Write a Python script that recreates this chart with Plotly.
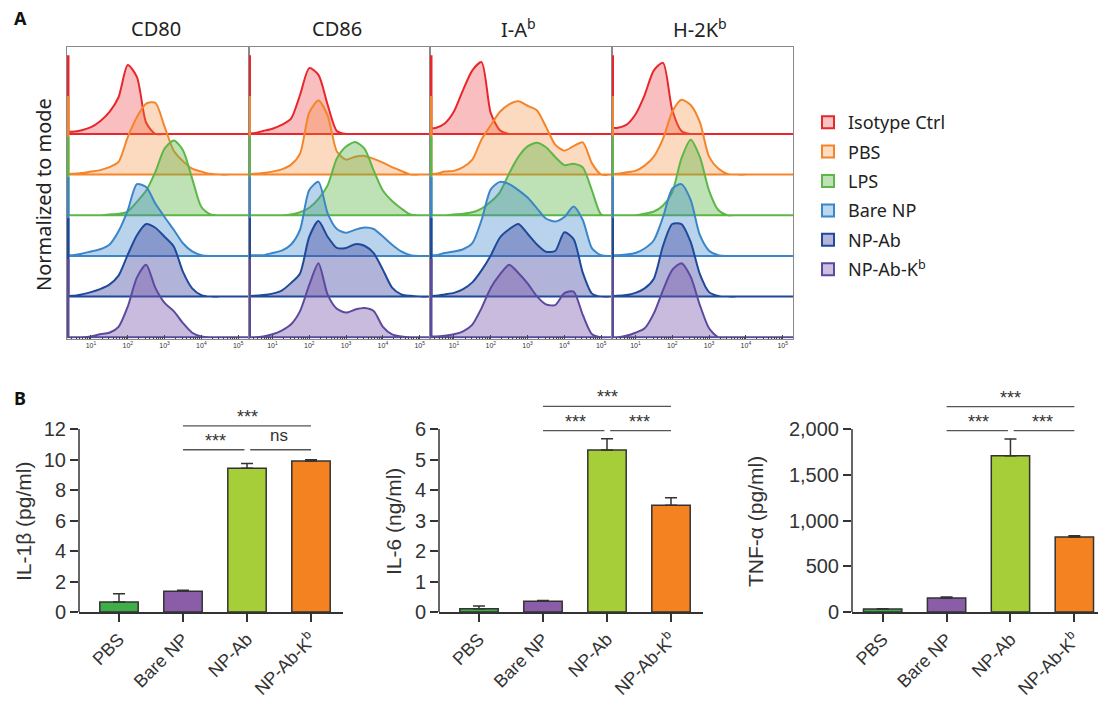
import plotly.graph_objects as go

W, H = 1099, 702

# ---------------- Panel A data (flow cytometry histograms, % of mode) ----------------
SAMPLES = ["Isotype Ctrl", "PBS", "LPS", "Bare NP", "NP-Ab", "NP-Ab-K<sup>b</sup>"]
LINE_COLORS = ["#e8262b", "#f5852a", "#5cb748", "#3b86c8", "#1f4a9a", "#5b4a9d"]
FILL_COLORS = ["rgba(234,40,45,0.30)", "rgba(246,134,44,0.30)", "rgba(92,183,72,0.40)",
               "rgba(59,134,200,0.36)", "rgba(70,75,165,0.42)", "rgba(120,85,170,0.40)"]
LEGEND_FILL = ["#f8c3c3", "#fcdcc2", "#bfe1b6", "#bcd7ef", "#b3b5da", "#cdbfe0"]

MARKERS = ["CD80", "CD86", "I-A<sup>b</sup>", "H-2K<sup>b</sup>"]
LOG10_FLUOR = [0.25, 0.5, 0.75, 1.0, 1.25, 1.5, 1.75, 2.0, 2.25, 2.5, 2.75,
               3.0, 3.25, 3.5, 3.75, 4.0, 4.25, 4.5, 4.75, 5.0, 5.25, 5.5]
EDGE_PILEUP = [105, 105, 105, 105, 105, 105]

CD80_ISO = [3, 3, 5, 9, 17, 29, 49, 92, 76, 15, 0, 0, 0, 0, 0, 0, 0, 0, 0, 0, 0, 0]
CD80_PBS = [1, 1, 2, 4, 6, 10, 17, 50, 77, 95, 96, 64, 32, 18, 8, 4, 1, 0, 0, 0, 0, 0]
CD80_LPS = [0, 0, 0, 0, 0, 1, 2, 5, 18, 33, 58, 89, 100, 87, 49, 11, 1, 0, 0, 0, 0, 0]
CD80_BARE = [1, 1, 3, 6, 9, 15, 33, 61, 96, 92, 70, 52, 35, 17, 6, 1, 0, 0, 0, 0, 0, 0]
CD80_NPAB = [1, 1, 3, 6, 10, 16, 28, 56, 82, 97, 92, 80, 67, 33, 11, 2, 0, 0, 0, 0, 0, 0]
CD80_NPABK = [0, 0, 0, 1, 4, 6, 14, 41, 80, 97, 66, 46, 35, 19, 6, 1, 0, 0, 0, 0, 0, 0]

CD86_ISO = [1, 1, 4, 7, 12, 20, 52, 88, 79, 39, 4, 0, 0, 0, 0, 0, 0, 0, 0, 0, 0, 0]
CD86_PBS = [1, 1, 2, 4, 7, 13, 28, 83, 99, 79, 31, 20, 24, 25, 21, 16, 10, 5, 0, 0, 0, 0]
CD86_LPS = [0, 0, 0, 0, 0, 1, 4, 10, 22, 40, 76, 92, 98, 89, 60, 33, 19, 9, 1, 0, 0, 0]
CD86_BARE = [1, 1, 1, 4, 7, 15, 35, 88, 99, 57, 36, 31, 35, 38, 36, 26, 15, 6, 1, 0, 0, 0]
CD86_NPAB = [1, 1, 2, 4, 8, 18, 31, 80, 101, 80, 65, 65, 70, 68, 58, 36, 12, 3, 1, 0, 0, 0]
CD86_NPABK = [0, 0, 1, 4, 9, 17, 35, 70, 99, 57, 38, 33, 37, 39, 35, 14, 4, 1, 0, 0, 0, 0]

IAB_ISO = [8, 8, 14, 30, 59, 85, 96, 28, 5, 0, 0, 0, 0, 0, 0, 0, 0, 0, 0, 0, 0, 0]
IAB_PBS = [1, 1, 4, 5, 10, 20, 47, 66, 84, 94, 98, 92, 86, 64, 40, 32, 38, 43, 15, 0, 0, 0]
IAB_LPS = [0, 0, 0, 1, 2, 4, 9, 18, 31, 56, 78, 92, 97, 91, 78, 67, 69, 64, 33, 1, 0, 0]
IAB_BARE = [1, 1, 4, 6, 9, 17, 48, 89, 99, 96, 88, 78, 64, 50, 46, 52, 66, 48, 10, 1, 0, 0]
IAB_NPAB = [1, 1, 3, 5, 10, 19, 35, 55, 79, 90, 97, 84, 70, 60, 61, 86, 77, 32, 4, 0, 0, 0]
IAB_NPABK = [1, 1, 2, 4, 8, 17, 39, 66, 84, 97, 86, 72, 55, 44, 43, 59, 61, 30, 4, 0, 0, 0]

H2KB_ISO = [8, 8, 12, 26, 52, 85, 95, 32, 4, 0, 0, 0, 0, 0, 0, 0, 0, 0, 0, 0, 0, 0]
H2KB_PBS = [1, 1, 3, 5, 12, 24, 48, 84, 100, 93, 70, 24, 8, 1, 0, 0, 0, 0, 0, 0, 0, 0]
H2KB_LPS = [0, 0, 0, 0, 2, 5, 13, 31, 76, 101, 78, 33, 7, 0, 0, 0, 0, 0, 0, 0, 0, 0]
H2KB_BARE = [1, 1, 2, 4, 10, 21, 52, 90, 96, 75, 28, 7, 1, 0, 0, 0, 0, 0, 0, 0, 0, 0]
H2KB_NPAB = [1, 1, 2, 5, 11, 24, 68, 97, 97, 73, 30, 6, 1, 0, 0, 0, 0, 0, 0, 0, 0, 0]
H2KB_NPABK = [0, 0, 2, 6, 12, 32, 63, 90, 99, 81, 43, 12, 0, 0, 0, 0, 0, 0, 0, 0, 0, 0]

HISTS = [
    [CD80_ISO, CD80_PBS, CD80_LPS, CD80_BARE, CD80_NPAB, CD80_NPABK],
    [CD86_ISO, CD86_PBS, CD86_LPS, CD86_BARE, CD86_NPAB, CD86_NPABK],
    [IAB_ISO, IAB_PBS, IAB_LPS, IAB_BARE, IAB_NPAB, IAB_NPABK],
    [H2KB_ISO, H2KB_PBS, H2KB_LPS, H2KB_BARE, H2KB_NPAB, H2KB_NPABK],
]

# ---------------- Panel B data (cytokines, mean and SEM) ----------------
GROUPS = ["PBS", "Bare NP", "NP-Ab", "NP-Ab-K<sup>b</sup>"]
BAR_COLORS = ["#3fae49", "#8b5ca7", "#a6ce39", "#f58220"]
IL1B_MEAN = [0.65, 1.36, 9.42, 9.9]
IL1B_SEM = [0.55, 0.06, 0.32, 0.08]
IL6_MEAN = [0.11, 0.35, 5.31, 3.5]
IL6_SEM = [0.09, 0.03, 0.37, 0.25]
TNF_MEAN = [33, 153, 1708, 821]
TNF_SEM = [3, 11, 183, 11]
IL1B_TICKS = [0, 2, 4, 6, 8, 10, 12]
IL6_TICKS = [0, 1, 2, 3, 4, 5, 6]
TNF_TICKS = [0, 500, 1000, 1500, 2000]
TNF_TICKTEXT = ["0", "500", "1,000", "1,500", "2,000"]
# significance: (from group, to group, label, level)
IL1B_SIG = [(1, 2, "***", 0), (2, 3, "ns", 0), (1, 3, "***", 1)]
IL6_SIG = [(1, 2, "***", 0), (2, 3, "***", 0), (1, 3, "***", 1)]
TNF_SIG = [(1, 2, "***", 0), (2, 3, "***", 0), (1, 3, "***", 1)]

# ---------------- helpers ----------------
def xd(p0, p1):
    return [p0 / W, p1 / W]

def yd(top, bottom):
    return [1 - bottom / H, 1 - top / H]

def paper_ann(text, px, py, size, family, color="#222", angle=0):
    return dict(text=text, x=px / W, y=1 - py / H, xref="paper", yref="paper",
                xanchor="center", yanchor="middle", showarrow=False, textangle=angle,
                font=dict(size=size, color=color, family=family))

PANEL_EDGES = [67, 248.5, 430, 611.5, 793]
HIST_TOP, HIST_BOTTOM = 46.5, 338.5
XLOG_RANGE = [0.35, 5.28]
ROWS_TOP = 7.15
PEAK_ROWS = 1.84   # height of 100% of mode, in row spacings

TXT = "#333333"
FONT_A = "Noto Sans"
FONT_B = "Liberation Sans"

fig = go.Figure()
layout = dict(width=W, height=H, margin=dict(l=0, r=0, t=0, b=0, pad=0, autoexpand=False),
              paper_bgcolor="white", plot_bgcolor="white", showlegend=True)
annotations = []
shapes = []

minor_vals = [k * 10 ** d for d in range(0, 6) for k in range(2, 10)]

for p in range(4):
    sfx = "" if p == 0 else str(p + 1)
    xa, ya = "x" + sfx, "y" + sfx
    for s in range(6):
        base = 5 - s
        vals = HISTS[p][s]
        xs = [10 ** L for L in LOG10_FLUOR] + [10 ** LOG10_FLUOR[0]]
        ys = [base + v / 100 * PEAK_ROWS for v in vals] + [base]
        fig.add_trace(go.Scatter(
            x=xs, y=ys, xaxis=xa, yaxis=ya, mode="lines", fill="toself",
            fillcolor=FILL_COLORS[s], line=dict(color=LINE_COLORS[s], width=2,
                                                shape="spline", smoothing=0.7),
            showlegend=False, hoverinfo="skip"))
        # pile-up of events at the lower edge of the scale
        fig.add_trace(go.Scatter(
            x=[10 ** XLOG_RANGE[0]] * 2,
            y=[base, base + EDGE_PILEUP[s] / 100 * PEAK_ROWS],
            xaxis=xa, yaxis=ya, mode="lines",
            line=dict(color=LINE_COLORS[s], width=5), showlegend=False, hoverinfo="skip"))
    layout["xaxis" + sfx] = dict(
        type="log", range=XLOG_RANGE, domain=xd(PANEL_EDGES[p], PANEL_EDGES[p + 1]),
        anchor=ya, tickmode="array", tickvals=[10, 100, 1000, 10000, 100000],
        ticktext=["10<sup>1</sup>", "10<sup>2</sup>", "10<sup>3</sup>", "10<sup>4</sup>", "10<sup>5</sup>"],
        ticks="inside", ticklen=4, tickcolor="#444", tickwidth=1,
        tickfont=dict(size=7, color=TXT, family=FONT_B),
        minor=dict(tickmode="array", tickvals=minor_vals, ticks="inside", ticklen=2,
                   tickcolor="#444", tickwidth=1),
        showline=True, linecolor="#8a8a8a", linewidth=1, mirror=True,
        showgrid=False, zeroline=False, automargin=False)
    layout["yaxis" + sfx] = dict(
        range=[-0.03, ROWS_TOP], domain=yd(HIST_TOP, HIST_BOTTOM), anchor=xa,
        showticklabels=False, ticks="", showline=True, linecolor="#8a8a8a",
        linewidth=1, mirror=True, showgrid=False, zeroline=False, automargin=False)
    annotations.append(paper_ann(MARKERS[p], (PANEL_EDGES[p] + PANEL_EDGES[p + 1]) / 2 - 2, 28,
                                 20, FONT_A))

# legend entries
for s in range(6):
    fig.add_trace(go.Scatter(
        x=[None], y=[None], xaxis="x", yaxis="y", mode="markers", name=SAMPLES[s],
        legendgroup="g%d" % s,
        marker=dict(symbol="square", size=12, color=LEGEND_FILL[s],
                    line=dict(color=LINE_COLORS[s], width=1.6))))

layout["legend"] = dict(x=808 / W, y=1 - 104 / H, xanchor="left", yanchor="top",
                        font=dict(size=18, color="#222", family=FONT_A),
                        tracegroupgap=3, bgcolor="rgba(0,0,0,0)", itemsizing="constant")

annotations.append(paper_ann("Normalized to mode", 43, 195, 20, FONT_A, angle=-90))
annotations.append(paper_ann("<b>A</b>", 20, 18, 18, FONT_A, color="#111"))
annotations.append(paper_ann("<b>B</b>", 20, 398, 18, FONT_A, color="#111"))

# ---------------- Panel B bar charts ----------------
BAR_Y0, BAR_TOPTICK, BAR_DOMTOP = 612, 429, 385
charts = [
    dict(mean=IL1B_MEAN, sem=IL1B_SEM, ticks=IL1B_TICKS, ticktext=[str(t) for t in IL1B_TICKS],
         sig=IL1B_SIG, title="IL-1β (pg/ml)", x0=79, x1=343, xr=[-0.625, 3.5],
         title_x=23, lvl=[10.64, 12.2]),
    dict(mean=IL6_MEAN, sem=IL6_SEM, ticks=IL6_TICKS, ticktext=[str(t) for t in IL6_TICKS],
         sig=IL6_SIG, title="IL-6 (ng/ml)", x0=439, x1=703, xr=[-0.625, 3.5],
         title_x=393, lvl=[5.95, 6.74]),
    dict(mean=TNF_MEAN, sem=TNF_SEM, ticks=TNF_TICKS, ticktext=TNF_TICKTEXT,
         sig=TNF_SIG, title="TNF-α (pg/ml)", x0=852, x1=1098, xr=[-0.48, 3.37],
         title_x=755, lvl=[1982, 2245]),
]

for i, c in enumerate(charts):
    n = 5 + i
    xa, ya = "x%d" % n, "y%d" % n
    ymax = c["ticks"][-1]
    ytop = ymax * (BAR_Y0 - BAR_DOMTOP) / (BAR_Y0 - BAR_TOPTICK)
    unit = ymax / (BAR_Y0 - BAR_TOPTICK)  # data units per pixel
    fig.add_trace(go.Bar(
        x=[0, 1, 2, 3], y=c["mean"], xaxis=xa, yaxis=ya, width=0.6,
        marker=dict(color=BAR_COLORS, line=dict(color="#333", width=1.5)),
        error_y=dict(type="data", array=c["sem"], arrayminus=[0, 0, 0, 0], symmetric=False,
                     color="#333", thickness=1.5, width=6),
        showlegend=False, hoverinfo="skip"))
    layout["xaxis%d" % n] = dict(
        domain=xd(c["x0"], c["x1"]), range=c["xr"], anchor=ya,
        tickmode="array", tickvals=[0, 1, 2, 3], ticktext=GROUPS, tickangle=-45,
        ticks="outside", ticklen=8, tickwidth=1.5, tickcolor="#333",
        tickfont=dict(size=18, color=TXT, family=FONT_B),
        showline=True, linecolor="#333", linewidth=1.5, showgrid=False, zeroline=False,
        automargin=False)
    layout["yaxis%d" % n] = dict(
        domain=yd(BAR_DOMTOP, BAR_Y0), range=[0, ytop], anchor=xa,
        tickmode="array", tickvals=c["ticks"], ticktext=c["ticktext"],
        ticks="outside", ticklen=8, tickwidth=1.5, tickcolor="#333",
        tickfont=dict(size=20, color=TXT, family=FONT_B),
        showline=False, showgrid=False, zeroline=False, automargin=False)
    # y axis line only up to the last tick
    shapes.append(dict(type="line", xref=xa + " domain", yref=ya, x0=0, x1=0, y0=0, y1=ymax,
                       line=dict(color="#333", width=1.5)))
    annotations.append(paper_ann(c["title"], c["title_x"], 522, 21, FONT_B, color=TXT, angle=-90))
    for (g0, g1, lab, lv) in c["sig"]:
        yv = c["lvl"][lv]
        a0 = g0 + (0.05 if g0 == 2 else 0)
        a1 = g1 - (0.04 if g1 == 2 else 0)
        shapes.append(dict(type="line", xref=xa, yref=ya, x0=a0, x1=a1, y0=yv, y1=yv,
                           line=dict(color="#555", width=1.3)))
        off = 9 if lab == "***" else 14
        annotations.append(dict(text=lab, x=(g0 + g1) / 2, y=yv + off * unit, xref=xa, yref=ya,
                                xanchor="center", yanchor="middle", showarrow=False,
                                font=dict(size=18 if lab == "***" else 17, color=TXT,
                                          family=FONT_B)))

layout["annotations"] = annotations
layout["shapes"] = shapes
fig.update_layout(**layout)
fig.write_html("out.html", config={"displayModeBar": False},
               post_script="document.body.style.margin='0px';document.body.style.padding='0px';")
